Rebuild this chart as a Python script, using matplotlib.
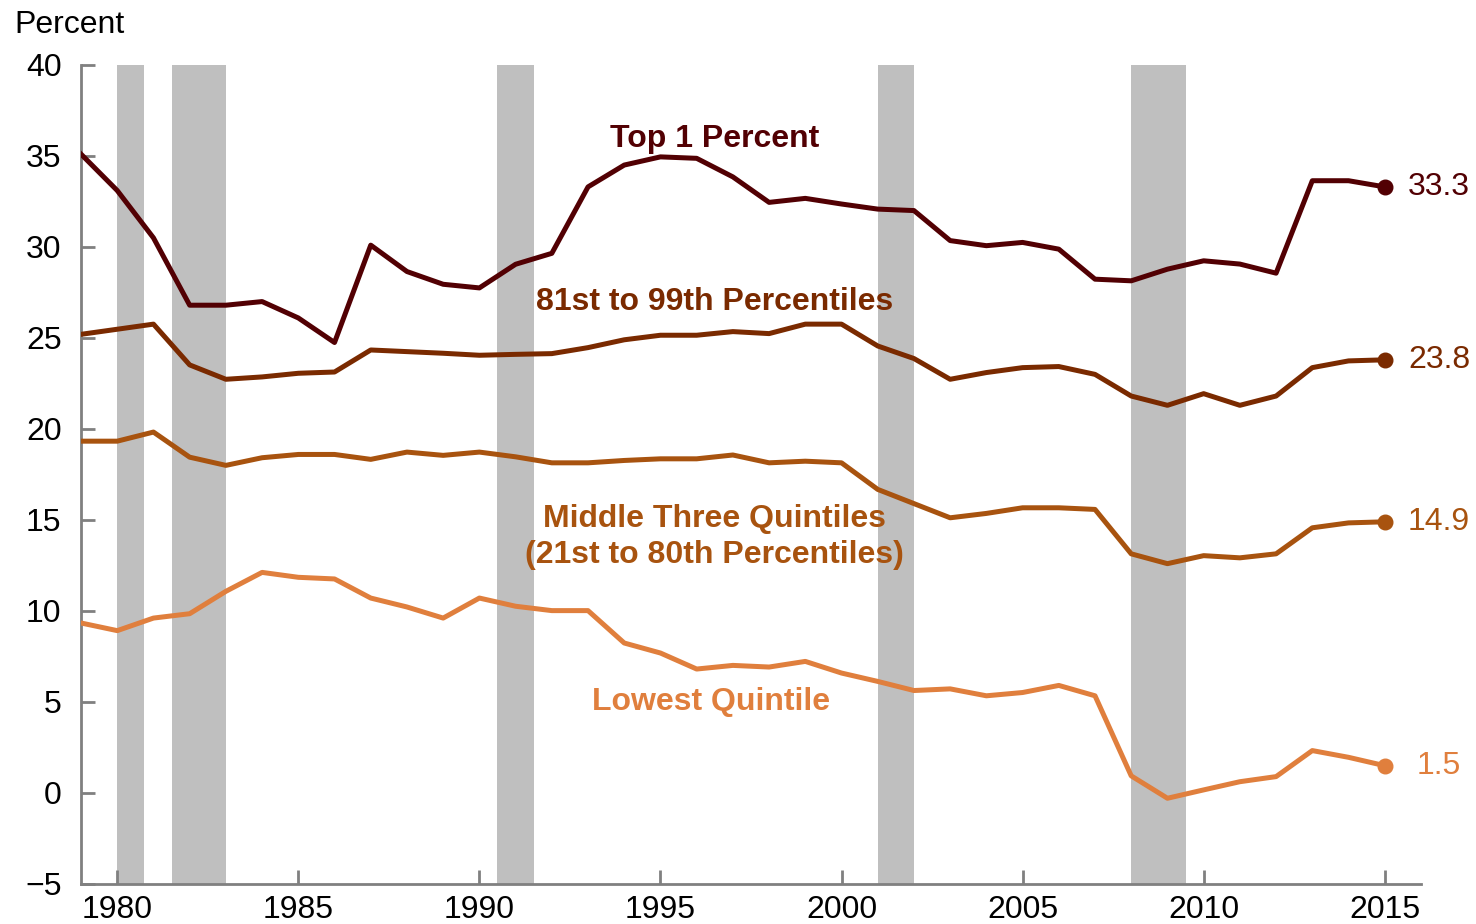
import matplotlib
matplotlib.use("Agg")
import matplotlib.pyplot as plt
import numpy as np

plt.rcParams['font.family'] = ['Liberation Sans', 'DejaVu Sans']

years = list(range(1979, 2016))

top1 = [35.1, 33.1, 30.5, 26.8, 26.8, 27.0, 26.1, 24.75, 30.1, 28.65,
        27.95, 27.75, 29.05, 29.65, 33.3, 34.5, 34.95, 34.87, 33.85, 32.45,
        32.67, 32.36, 32.08, 32.0, 30.35, 30.07, 30.25, 29.88, 28.23, 28.14,
        28.78, 29.24, 29.06, 28.56, 33.64, 33.64, 33.3]
p81_99 = [25.2, 25.48, 25.76, 23.52, 22.73, 22.86, 23.06, 23.13, 24.34, 24.25,
          24.16, 24.05, 24.1, 24.14, 24.47, 24.9, 25.15, 25.15, 25.35, 25.24,
          25.76, 25.76, 24.56, 23.87, 22.73, 23.1, 23.37, 23.43, 23.0, 21.81,
          21.3, 21.94, 21.3, 21.81, 23.37, 23.74, 23.8]
middle3 = [19.33, 19.33, 19.83, 18.45, 18.0, 18.42, 18.6, 18.6, 18.33, 18.73,
           18.55, 18.73, 18.47, 18.14, 18.14, 18.27, 18.36, 18.36, 18.57, 18.14,
           18.23, 18.14, 16.68, 15.9, 15.12, 15.36, 15.67, 15.67, 15.58, 13.14,
           12.6, 13.04, 12.92, 13.14, 14.57, 14.84, 14.9]
lowest = [9.34, 8.92, 9.61, 9.85, 11.08, 12.12, 11.85, 11.76, 10.71, 10.22,
          9.61, 10.71, 10.26, 10.02, 10.02, 8.24, 7.69, 6.81, 7.01, 6.92,
          7.23, 6.59, 6.13, 5.63, 5.72, 5.34, 5.52, 5.91, 5.34, 0.94,
          -0.29, 0.17, 0.62, 0.9, 2.33, 1.96, 1.5]

recessions = [(1980.0, 1980.75), (1981.5, 1983.0), (1990.5, 1991.5),
              (2001.0, 2002.0), (2008.0, 2009.5)]

# values, colour, name, label x, label y, end label
series = [
    (top1, '#520003', 'Top 1 Percent', 1996.5, 35.95, '33.3'),
    (p81_99, '#7A2A00', '81st to 99th Percentiles', 1996.5, 26.95, '23.8'),
    (middle3, '#A8530F', 'Middle Three Quintiles\n(21st to 80th Percentiles)', 1996.5, 14.05, '14.9'),
    (lowest, '#E07F3D', 'Lowest Quintile', 1996.4, 5.0, '1.5'),
]

fig = plt.figure(figsize=(14.76, 9.24), dpi=100)
ax = fig.add_axes([0.0549, 0.0433, 0.9078, 0.8864])

for a, b in recessions:
    ax.axvspan(a, b, ymin=0, ymax=1, color='#BFBFBF', lw=0, zorder=1)

for vals, col, name, lx, ly, endlab in series:
    ax.plot(years, vals, color=col, lw=3.6, zorder=3)
    ax.plot(years[-1], vals[-1], 'o', color=col, ms=10.5, zorder=4)
    ax.text(2016.5, vals[-1], endlab, color=col, fontsize=23,
            ha='center', va='center')
    ax.text(lx, ly, name, color=col, fontsize=23,
            fontweight='bold', ha='center', va='center', linespacing=1.25,
            zorder=5)

ax.set_xlim(1979, 2016)
ax.set_ylim(-5, 40)
ax.set_xticks(range(1980, 2016, 5))
ax.set_yticks(range(-5, 41, 5))
ax.tick_params(direction='in', length=10, width=2, color='#808080',
               labelsize=23, pad=14)
ax.tick_params(axis='x', pad=8)
for s in ['top', 'right']:
    ax.spines[s].set_visible(False)
for s in ['left', 'bottom']:
    ax.spines[s].set_color('#808080')
    ax.spines[s].set_linewidth(2)

fig.text(0.010, 0.973, 'Percent', fontsize=23, ha='left', va='center')

fig.savefig('out.png', dpi=100)
